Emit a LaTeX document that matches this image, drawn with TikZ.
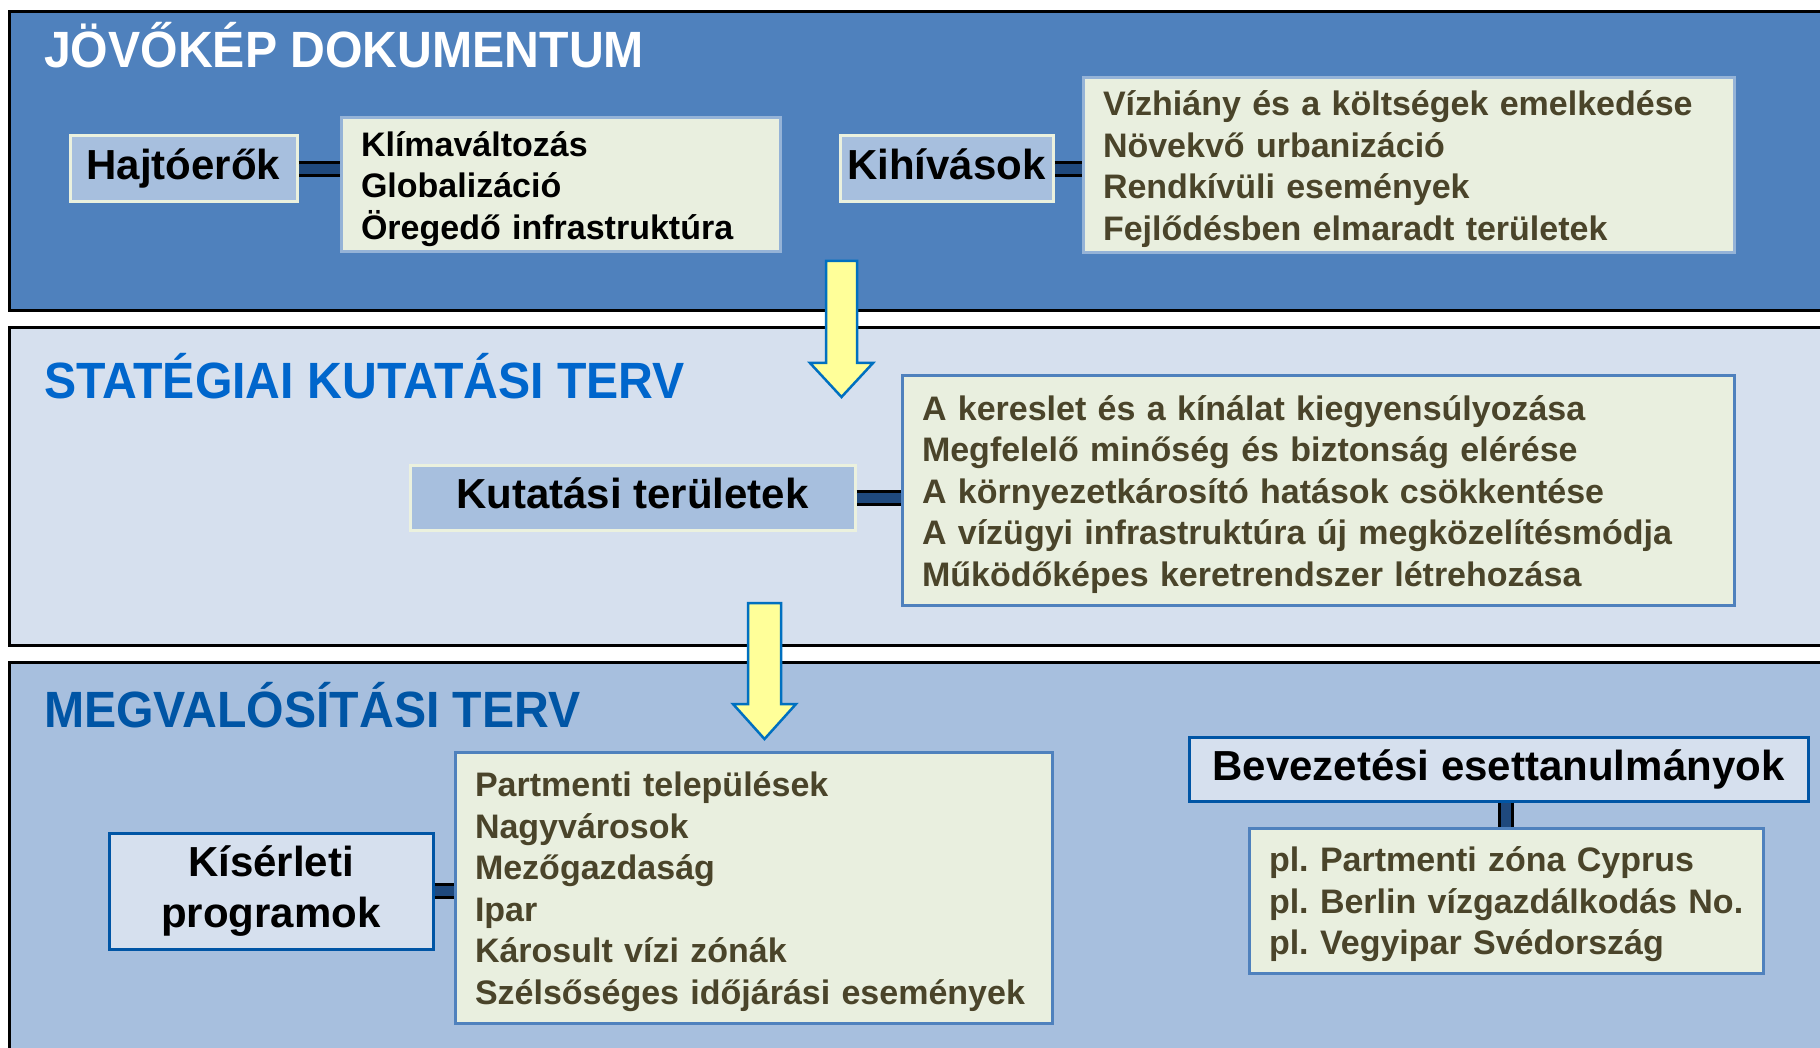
\documentclass[tikz,border=0pt]{standalone}
\usepackage{fontspec}
\setmainfont{Liberation Sans}
\newfontfamily\titlefont{Liberation Sans}[FakeStretch=0.945]
\definecolor{pdark}{HTML}{4F81BD}
\definecolor{plight}{HTML}{D6E0EE}
\definecolor{pmid}{HTML}{A7BFDE}
\definecolor{boxedge}{HTML}{EBF1DE}
\definecolor{listfill}{HTML}{E9EFDF}
\definecolor{listedgeA}{HTML}{95B3D7}
\definecolor{listedgeB}{HTML}{4F81BD}
\definecolor{olivetext}{HTML}{4A442A}
\definecolor{titleblue}{HTML}{0066CC}
\definecolor{titledark}{HTML}{0055A5}
\definecolor{connblue}{HTML}{1F497D}
\definecolor{arrowfill}{HTML}{FFFF99}
\definecolor{arrowedge}{HTML}{0070C0}
\newcommand\mytopstrut{\rule{0pt}{37.5pt}}
\newcommand\mybotstrut{\rule[-12pt]{0pt}{12pt}}
\tikzset{
  panel/.style={draw=black, line width=3pt},
  paneltitle/.style={anchor=base west, inner sep=0pt, font=\titlefont\fontsize{51}{60}\selectfont\bfseries},
  lblbox/.style={fill=pmid, draw=boxedge, line width=3pt, inner sep=0pt, text=black,
    font=\fontsize{42}{51}\selectfont\bfseries, text height=31pt, text depth=9pt},
  lblboxB/.style={fill=plight, draw=titledark, line width=3pt, inner sep=0pt, text=black,
    font=\fontsize{42}{51}\selectfont\bfseries, align=center},
  listbox/.style={fill=listfill, draw=listedgeA, line width=3pt, inner xsep=20pt, inner ysep=0pt,
    align=left, text=olivetext, font=\fontsize{34}{41.5}\selectfont\bfseries,
    execute at begin node=\mytopstrut, execute at end node=\mybotstrut},
  conn/.style={draw=black, line width=3pt, double=connblue, double distance=10pt},
  blockarrow/.style={fill=arrowfill, draw=arrowedge, line width=2.5pt, line join=miter}
}
\frenchspacing
\begin{document}
\frenchspacing
\begin{tikzpicture}[x=1pt,y=1pt]
\useasboundingbox (0,0) rectangle (1820,-1048);
\clip (0,0) rectangle (1820,-1048);
\fill[white] (0,0) rectangle (1820,-1048);

% panels
\path[panel, fill=pdark] (9,-12) rectangle (1850,-311);
\path[panel, fill=plight] (9,-328) rectangle (1850,-645);
\path[panel, fill=pmid] (9,-662) rectangle (1850,-1080);

% titles
\node[paneltitle, text=white] (t1) at (44,-68) {JÖVŐKÉP DOKUMENTUM};
\node[paneltitle, text=titleblue] (t2) at (44,-398) {STATÉGIAI KUTATÁSI TERV};
\node[paneltitle, text=titledark] (t3) at (44,-727) {MEGVALÓSÍTÁSI TERV};

% block arrows
\path[blockarrow] (826,-261) -- (857,-261) -- (857,-363) -- (873,-363) -- (841.5,-397)
  -- (810,-363) -- (826,-363) -- cycle;
\path[blockarrow] (748,-603) -- (781,-603) -- (781,-704) -- (796,-704) -- (764.5,-739)
  -- (733,-704) -- (748,-704) -- cycle;

% top panel
\node[lblbox, minimum width=227pt, minimum height=66pt] (hajto) at (183.5,-169) {Hajtóerők};
\node[listbox, text=black, text width=399pt, minimum width=439pt, minimum height=134pt] (list1) at (560.5,-185)
  {Klímaváltozás\\Globalizáció\\Öregedő infrastruktúra};
\node[lblbox, minimum width=213pt, minimum height=66pt] (kihiv) at (946.5,-169) {Kihívások};
\node[listbox, text width=611pt, minimum width=651pt, minimum height=175pt] (list2) at (1408.5,-165.5)
  {Vízhiány és a költségek emelkedése\\Növekvő urbanizáció\\Rendkívüli események\\Fejlődésben elmaradt területek};

% middle panel
\node[lblbox, minimum width=445pt, minimum height=65pt] (kutat) at (632.5,-497.5) {Kutatási területek};
\node[listbox, draw=listedgeB, text width=792pt, minimum width=832pt, minimum height=229pt] (list3) at (1318,-490.5)
  {A kereslet és a kínálat kiegyensúlyozása\\Megfelelő minőség és biztonság elérése\\A környezetkárosító hatások csökkentése\\A vízügyi infrastruktúra új megközelítésmódja\\Működőképes keretrendszer létrehozása};

% bottom panel
\node[lblboxB, minimum width=324pt, minimum height=116pt] (kiser) at (271,-891) {Kísérleti\\programok};
\node[listbox, draw=listedgeB, text width=557pt, minimum width=597pt, minimum height=271pt] (list4) at (753.5,-887.5)
  {Partmenti települések\\Nagyvárosok\\Mezőgazdaság\\Ipar\\Károsult vízi zónák\\Szélsőséges időjárási események};
\node[lblboxB, minimum width=619pt, minimum height=64pt] (bevez) at (1498.5,-769) {Bevezetési esettanulmányok};
\node[listbox, draw=listedgeB, text width=474pt, minimum width=514pt, minimum height=145pt] (list5) at (1506,-900.5)
  {pl. Partmenti zóna Cyprus\\\mbox{pl. Berlin vízgazdálkodás No.}\\pl. Vegyipar Svédország};

% connectors
\draw[conn] (hajto.east) -- (hajto.east -| list1.west);
\draw[conn] (kihiv.east) -- (kihiv.east -| list2.west);
\draw[conn] (kutat.east) -- (kutat.east -| list3.west);
\draw[conn] (kiser.east) -- (kiser.east -| list4.west);
\draw[conn] (bevez.south -| list5.north) -- (list5.north);
\end{tikzpicture}
\end{document}
